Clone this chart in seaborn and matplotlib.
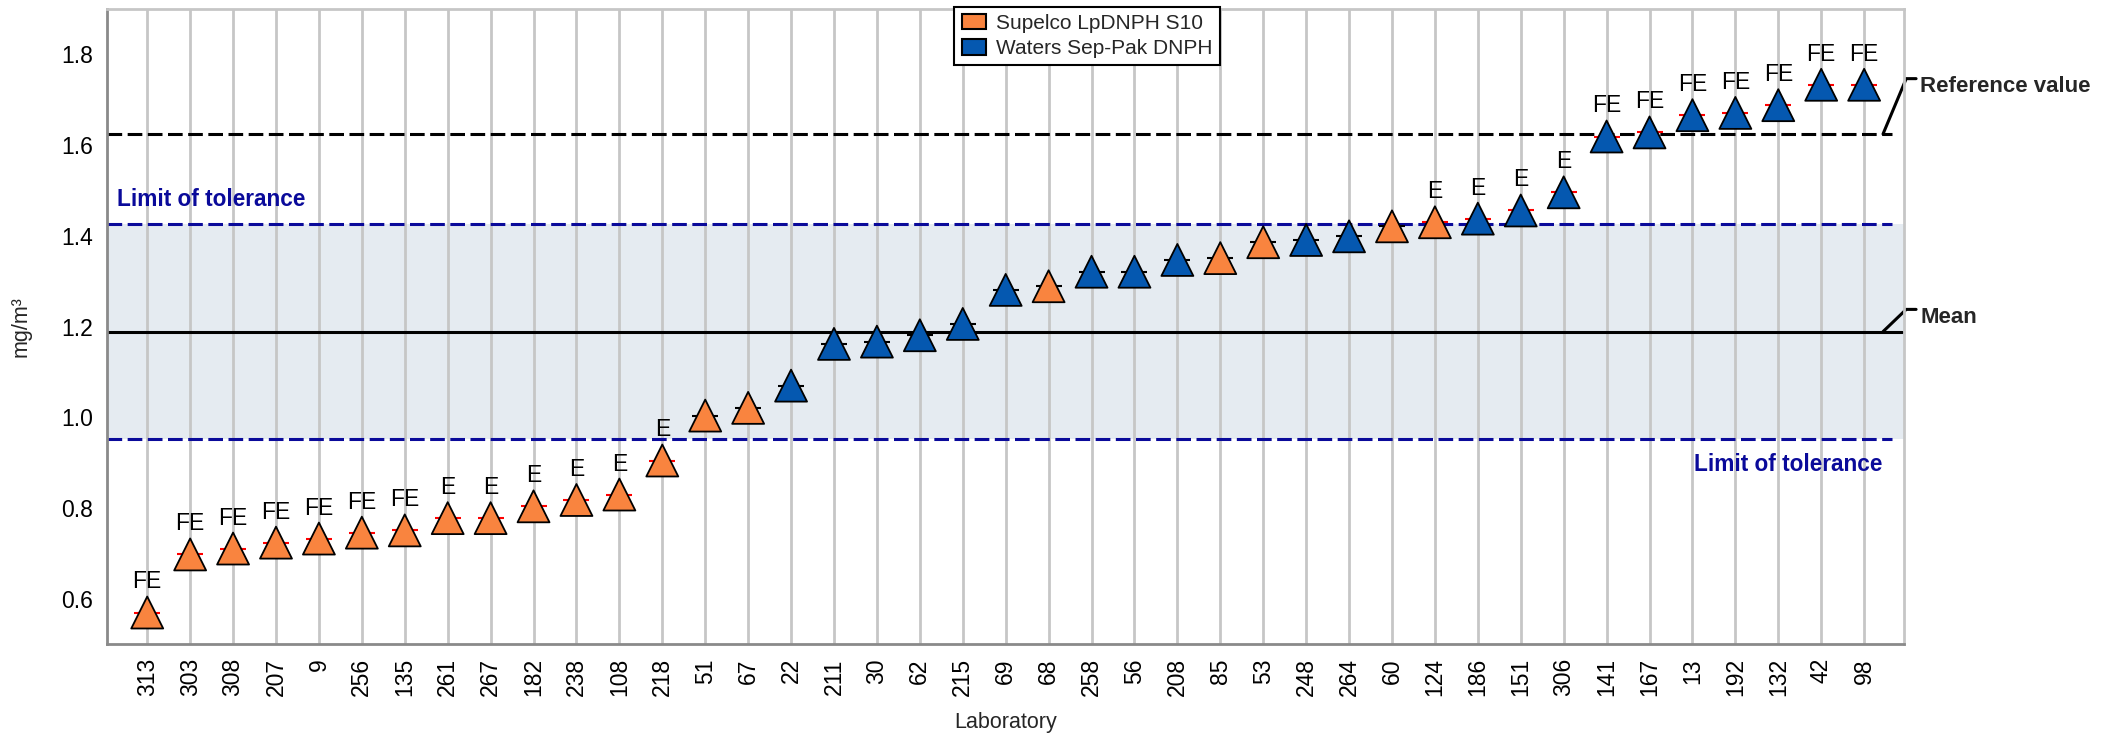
import numpy as np
import pandas as pd
import matplotlib
matplotlib.use("Agg")
import matplotlib.pyplot as plt
from matplotlib.patches import Patch
import seaborn as sns

# ---------------- data ----------------
laboratories = ['313', '303', '308', '207', '9', '256', '135', '261', '267', '182', '238', '108',
                '218', '51', '67', '22', '211', '30', '62', '215', '69', '68', '258', '56', '208',
                '85', '53', '248', '264', '60', '124', '186', '151', '306', '141', '167', '13',
                '192', '132', '42', '98']
values = [0.570, 0.698, 0.711, 0.724, 0.733, 0.746, 0.751, 0.778, 0.778, 0.804, 0.818, 0.830,
          0.905, 1.004, 1.021, 1.070, 1.162, 1.167, 1.181, 1.206, 1.281, 1.289, 1.321, 1.321,
          1.347, 1.351, 1.386, 1.391, 1.399, 1.421, 1.430, 1.438, 1.456, 1.496, 1.619, 1.628,
          1.666, 1.671, 1.688, 1.733, 1.733]
samplers = (['Supelco LpDNPH S10'] * 13 +
            ['Supelco LpDNPH S10', 'Supelco LpDNPH S10', 'Waters Sep-Pak DNPH', 'Waters Sep-Pak DNPH',
             'Waters Sep-Pak DNPH', 'Waters Sep-Pak DNPH', 'Waters Sep-Pak DNPH', 'Waters Sep-Pak DNPH',
             'Supelco LpDNPH S10', 'Waters Sep-Pak DNPH', 'Waters Sep-Pak DNPH', 'Waters Sep-Pak DNPH',
             'Supelco LpDNPH S10', 'Supelco LpDNPH S10', 'Waters Sep-Pak DNPH', 'Waters Sep-Pak DNPH',
             'Supelco LpDNPH S10', 'Supelco LpDNPH S10', 'Waters Sep-Pak DNPH', 'Waters Sep-Pak DNPH',
             'Waters Sep-Pak DNPH'] +
            ['Waters Sep-Pak DNPH'] * 7)
flags = ['FE'] * 7 + ['E'] * 6 + [''] * 17 + ['E'] * 4 + ['FE'] * 7

reference_value = 1.6245
mean_value = 1.189
tol_upper = 1.427
tol_lower = 0.952

palette = {'Supelco LpDNPH S10': '#f9843f', 'Waters Sep-Pak DNPH': '#0558b0'}

df = pd.DataFrame({'lab': laboratories, 'value': values, 'sampler': samplers, 'flag': flags})
df['pos'] = np.arange(len(df))

# ---------------- style ----------------
sns.set_style('white')
plt.rcParams['font.family'] = ['Liberation Sans', 'DejaVu Sans']
plt.rcParams['font.size'] = 16

fig = plt.figure(figsize=(21.03, 7.37), dpi=100)
ax = fig.add_axes([0.0507, 0.1258, 0.8547, 0.862])

xl = (-0.946, 40.93)
ax.set_xlim(*xl)
ax.set_ylim(0.5, 1.9)

# band + grid
ax.axhspan(tol_lower, tol_upper, color='#e5ebf1', zorder=0.2, lw=0)
ax.set_axisbelow(True)
ax.grid(axis='x', color='#c6c6c6', lw=2.0, zorder=0.5)
ax.grid(axis='y', visible=False)

# reference lines
dash = (4.8, 1.8)
ax.plot([xl[0], 40.65], [reference_value] * 2, color='black', lw=2.2, dashes=dash, zorder=1.5)
ax.plot([xl[0], 40.65], [tol_upper] * 2, color='#0a0a9a', lw=2.2, dashes=dash, zorder=1.5)
ax.plot([xl[0], 40.65], [tol_lower] * 2, color='#0a0a9a', lw=2.2, dashes=dash, zorder=1.5)
ax.plot([xl[0], 40.88], [mean_value] * 2, color='black', lw=2.2, zorder=1.5)

# connectors and labels on the right
ax.plot([40.44, 40.98, 41.21], [reference_value, 1.7465, 1.7465], color='black', lw=2.2,
        clip_on=False, solid_joinstyle='miter')
ax.plot([40.44, 40.98, 41.21], [mean_value, 1.238, 1.238], color='black', lw=2.2,
        clip_on=False, solid_joinstyle='miter')
ax.text(41.31, 1.717, 'Reference value', fontsize=16, fontweight='bold', ha='left', va='baseline')
ax.text(41.31, 1.207, 'Mean', fontsize=16, fontweight='bold', ha='left', va='baseline')

ax.text(-0.706, 1.466, 'Limit of tolerance', fontsize=16.3, fontweight='bold', color='#0a0a9a',
        ha='left', va='baseline')
ax.text(40.42, 0.882, 'Limit of tolerance', fontsize=16.3, fontweight='bold', color='#0a0a9a',
        ha='right', va='baseline')

# small dashes at each value (red when flagged)
dash_colors = ['#ff0000' if f else 'black' for f in df['flag']]
ax.scatter(df['pos'], df['value'], marker='_', s=18.7 ** 2, c=dash_colors, linewidths=1.5, zorder=2.5)

# triangles
sns.scatterplot(data=df, x='pos', y='value', hue='sampler', palette=palette, marker='^',
                s=23 ** 2, edgecolor='black', linewidth=1.3, legend=False, zorder=3, ax=ax)

# flag labels
for p, v, f in zip(df['pos'], df['value'], df['flag']):
    if f:
        ax.annotate(f, (p, v), xytext=(0, 17.3), textcoords='offset points', ha='center',
                    va='baseline', fontsize=16.5, color='black')

# axes
ax.set_xticks(df['pos'])
ax.set_xticklabels(df['lab'], rotation=90)
ax.set_yticks([0.6, 0.8, 1.0, 1.2, 1.4, 1.6, 1.8])
ax.set_yticklabels(['0.6', '0.8', '1.0', '1.2', '1.4', '1.6', '1.8'])
ax.tick_params(axis='both', which='major', length=7.7, width=1.5, color='#8a8a8a',
               labelsize=16.5, pad=2, labelcolor='black')
ax.tick_params(axis='x', length=8)

for s in ['left', 'bottom']:
    ax.spines[s].set_color('#8a8a8a')
    ax.spines[s].set_linewidth(2.0)
for s in ['top', 'right']:
    ax.spines[s].set_color('#c6c6c6')
    ax.spines[s].set_linewidth(2.0)
    ax.spines[s].set_visible(True)

ax.set_xlabel('Laboratory', fontsize=15.5, labelpad=11)
ax.set_ylabel('mg/m³', fontsize=15.5)
ax.yaxis.set_label_coords(-0.0477, 0.5)
ax.yaxis.label.set_verticalalignment('center')

handles = [Patch(facecolor=palette[k], edgecolor='black', lw=1.5, label=k) for k in palette]
leg = fig.legend(handles=handles, loc='upper center', bbox_to_anchor=(0.5169, 0.991), fontsize=15,
                 frameon=True, fancybox=False, shadow=False, framealpha=1, edgecolor='black',
                 handlelength=1.15, handleheight=0.75, handletextpad=0.5, labelspacing=0.3,
                 borderpad=0.35, borderaxespad=0)
leg.get_frame().set_linewidth(1.5)

fig.savefig('out.png', dpi=100)
